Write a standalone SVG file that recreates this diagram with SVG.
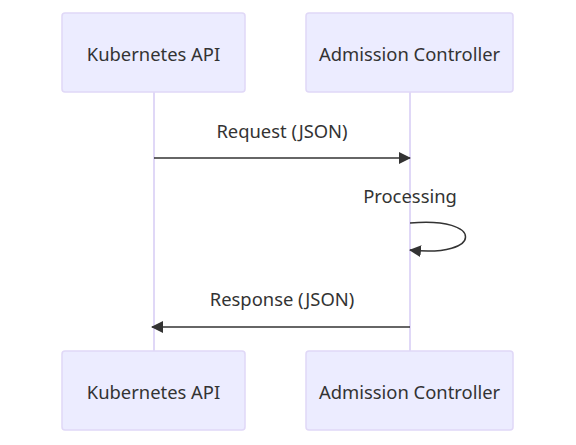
<svg xmlns="http://www.w3.org/2000/svg" width="576" height="445" viewBox="0 0 576 445">
<defs>
<style>
.actor{fill:#ECECFF;stroke:#E0D8F7;stroke-width:1.5}
.life{stroke:#E0D8F7;stroke-width:2}
.t{font-family:"Noto Sans","Open Sans",sans-serif;font-size:18.4px;fill:#333;text-anchor:middle;dominant-baseline:central}
.msg{stroke:#333;stroke-width:1.5;fill:none}
</style>
<marker id="ah" viewBox="0 0 12 12" refX="11" refY="6" markerWidth="12" markerHeight="12" markerUnits="userSpaceOnUse" orient="auto">
<path d="M0,0 L12,6 L0,12 Z" fill="#333"/>
</marker>
</defs>
<rect width="576" height="445" fill="#fff"/>
<g id="lifelines">
<line class="life" x1="154" y1="92" x2="154" y2="351"/>
<line class="life" x1="410" y1="92" x2="410" y2="351"/>
</g>
<g id="actor-k8s-top"><rect class="actor" x="62" y="13" width="183" height="79" rx="3"/><text class="t" x="153.5" y="53">Kubernetes API</text></g>
<g id="actor-ac-top"><rect class="actor" x="306" y="13" width="207" height="79" rx="3"/><text class="t" x="409.5" y="53">Admission Controller</text></g>
<g id="actor-k8s-bottom"><rect class="actor" x="62" y="351" width="183" height="79" rx="3"/><text class="t" x="153.5" y="391">Kubernetes API</text></g>
<g id="actor-ac-bottom"><rect class="actor" x="306" y="351" width="207" height="79" rx="3"/><text class="t" x="409.5" y="391">Admission Controller</text></g>
<g id="connectors">
<line class="msg" x1="154" y1="158" x2="410" y2="158" marker-end="url(#ah)"/>
<text class="t" x="282" y="130">Request (JSON)</text>
<path class="msg" d="M410,223 C484,216 484,258 410,250" marker-end="url(#ah)"/>
<text class="t" x="410" y="195">Processing</text>
<line class="msg" x1="410" y1="327" x2="152" y2="327" marker-end="url(#ah)"/>
<text class="t" x="282" y="298">Response (JSON)</text>
</g>
</svg>
